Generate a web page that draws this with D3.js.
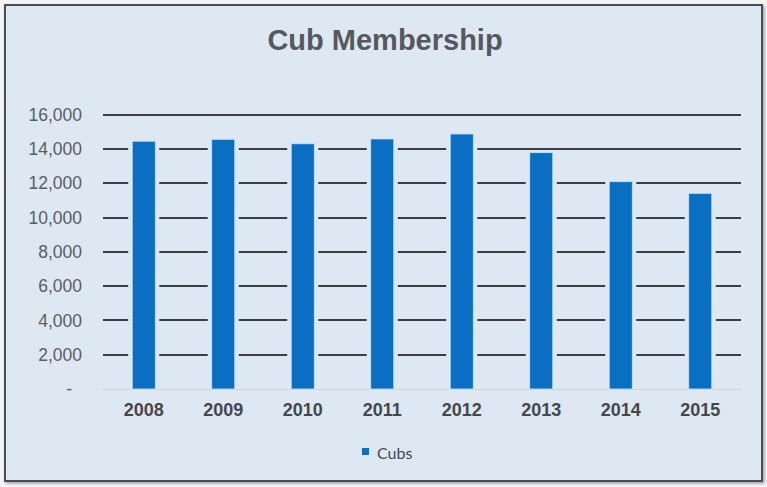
<!DOCTYPE html>
<meta charset="utf-8">
<style>
    body { margin: 0; background: #f4f4f4; }
    svg { display: block; font-family: "Liberation Sans", Arial, sans-serif; }
    .grid line { stroke: #3a3e45; stroke-width: 2.2; shape-rendering: crispEdges; }
    .y.axis text { fill: #595d63; font-size: 17.5px; }
    .x.axis text { fill: #44474c; font-size: 18px; font-weight: bold; }
    .axis path, .axis line { display: none; }
</style>
<body>
<script src="https://cdn.jsdelivr.net/npm/d3@7"></script>
<script>
    // data
    const years = ["2008", "2009", "2010", "2011", "2012", "2013", "2014", "2015"];
    const cubs = [14450, 14560, 14300, 14580, 14870, 13780, 12090, 11410];
    const yTicks = [0, 2000, 4000, 6000, 8000, 10000, 12000, 14000, 16000];

    const width = 767, height = 487;
    const plot = {left: 104, right: 740, top: 114.6, bottom: 389};

    const svg = d3.select("body").append("svg")
        .attr("width", width)
        .attr("height", height);

    // frame with a soft shadow
    const defs = svg.append("defs");
    const shadow = defs.append("filter").attr("id", "shadow")
        .attr("x", "-5%").attr("y", "-5%").attr("width", "110%").attr("height", "110%");
    shadow.append("feDropShadow").attr("dx", 1.5).attr("dy", 1.5)
        .attr("stdDeviation", 1.5).attr("flood-color", "#000").attr("flood-opacity", 0.35);

    svg.append("rect")
        .attr("x", 5).attr("y", 5)
        .attr("width", 757).attr("height", 476)
        .attr("fill", "#dee8f3")
        .attr("stroke", "#4a4d52")
        .attr("stroke-width", 2)
        .attr("filter", "url(#shadow)");

    svg.append("text")
        .attr("x", 385).attr("y", 50)
        .attr("text-anchor", "middle")
        .style("font-size", "29px")
        .style("font-weight", "bold")
        .style("fill", "#55595f")
        .text("Cub Membership");

    const x = d3.scaleBand()
        .domain(years)
        .range([plot.left, plot.right])
        .paddingInner(0.71)
        .paddingOuter(0.355);

    const y = d3.scaleLinear()
        .domain([0, 16000])
        .range([plot.bottom, plot.top]);

    // gridlines (not the zero line)
    svg.append("g").attr("class", "grid")
        .selectAll("line")
        .data(yTicks.filter(d => d > 0))
        .enter().append("line")
        .attr("x1", plot.left - 1).attr("x2", plot.right + 1)
        .attr("y1", d => Math.round(y(d))).attr("y2", d => Math.round(y(d)));

    // light base line
    svg.append("line")
        .attr("x1", plot.left - 1).attr("x2", plot.right + 1)
        .attr("y1", plot.bottom + 0.5).attr("y2", plot.bottom + 0.5)
        .attr("stroke", "#cdd5de").attr("stroke-width", 1);

    // bars with a pale halo that breaks the gridlines
    svg.append("g")
        .selectAll("rect")
        .data(years)
        .enter().append("rect")
        .attr("x", (d, i) => x(d) - 4)
        .attr("width", x.bandwidth() + 8)
        .attr("y", (d, i) => y(cubs[i]))
        .attr("height", (d, i) => y(0) - y(cubs[i]))
        .attr("fill", "#dee8f3");

    svg.append("g")
        .selectAll("rect")
        .data(years)
        .enter().append("rect")
        .attr("x", d => x(d))
        .attr("width", x.bandwidth())
        .attr("y", (d, i) => y(cubs[i]))
        .attr("height", (d, i) => y(0) - y(cubs[i]))
        .attr("fill", "#0a6fc2")
        .attr("stroke", "#c7e6fa")
        .attr("stroke-width", 0.8);

    // y axis
    svg.append("g")
        .attr("class", "y axis")
        .attr("transform", "translate(" + 82 + ",0)")
        .call(d3.axisLeft(y).tickValues(yTicks).tickSize(0).tickPadding(0)
            .tickFormat(d => d === 0 ? "-" : d3.format(",")(d)))
        .selectAll("text")
        .attr("dx", d => d === 0 ? "-10px" : 0);

    // x axis
    svg.append("g")
        .attr("class", "x axis")
        .attr("transform", "translate(0," + 399 + ")")
        .call(d3.axisBottom(x).tickSize(0).tickPadding(4));

    // legend
    const legend = svg.append("g").attr("transform", "translate(362,448)");
    legend.append("rect")
        .attr("width", 7).attr("height", 7)
        .attr("fill", "#0a6fc2");
    legend.append("text")
        .attr("x", 15).attr("y", 11)
        .style("font-family", "Lato, 'Open Sans', sans-serif")
        .style("font-size", "16px")
        .style("fill", "#44474c")
        .text("Cubs");
</script>
</body>
</html>
